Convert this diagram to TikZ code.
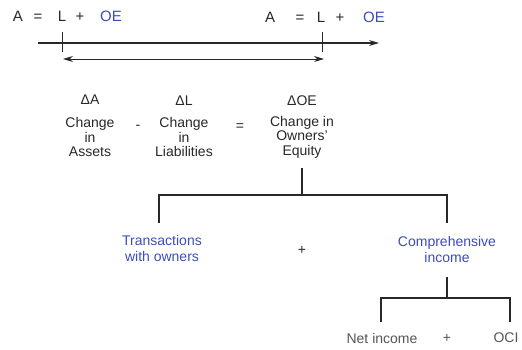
\documentclass[tikz,border=0pt]{standalone}
\usepackage{fontspec}
\setmainfont{Liberation Sans}
\usetikzlibrary{positioning, arrows.meta, calc}
\definecolor{oeblue}{RGB}{60,75,190}
\definecolor{ink}{RGB}{40,40,40}
\definecolor{greytxt}{RGB}{85,85,85}

\begin{document}
\begin{tikzpicture}[x=1pt, y=-1pt,
eq/.style={inner sep=0pt, anchor=base, text=ink, font=\fontsize{15}{17}\selectfont},
oe/.style={eq, text=oeblue},
lbl/.style={inner sep=0pt, align=center, text=ink, font=\fontsize{14}{14.5}\selectfont},
part/.style={lbl, text=oeblue, font=\fontsize{14}{16}\selectfont},
sub/.style={lbl, text=greytxt},
link/.style={draw=ink, line width=1.2pt},
tick/.style={draw=ink, line width=0.8pt},
axis/.style={draw=ink, line width=1.2pt, -{Stealth[length=10pt,width=6pt]}},
span/.style={draw=ink, line width=0.9pt, {Stealth[length=10pt,width=6pt]}-{Stealth[length=10pt,width=6pt]}}]
    \useasboundingbox (0,0) rectangle (522,349);

    % opening equation
    \node[eq] (a1) at (18,21) {A};
    \node[eq] (eq1) at (38,21) {=};
    \node[eq] (l1) at (62,21) {L};
    \node[eq] (p1) at (80,21) {+};
    \node[oe] (oe1) at (111,21) {OE};
    % closing equation
    \node[eq] (a2) at (270,22) {A};
    \node[eq] (eq2) at (300,22) {=};
    \node[eq] (l2) at (321,22) {L};
    \node[eq] (p2) at (340,22) {+};
    \node[oe] (oe2) at (374,22) {OE};

    % time line
    \coordinate (t0) at (38,43);
    \coordinate (t1) at (379,43);
    \draw[axis] (t0) -- (t1);
    \coordinate (k1a) at (62,32);
    \coordinate (k1b) at (62,52);
    \coordinate (k2a) at (322,32);
    \coordinate (k2b) at (322,52);
    \draw[tick] (k1a) -- (k1b);
    \draw[tick] (k2a) -- (k2b);
    \coordinate (s0) at (63,59);
    \coordinate (s1) at (324,59);
    \draw[span] (s0) -- (s1);

    % changes
    \node[lbl] (dA) at (90,100) {ΔA};
    \node[lbl] (dL) at (184,101) {ΔL};
    \node[lbl] (dOE) at (302,101) {ΔOE};
    \node[lbl] (chA) at (90,137) {Change\\in\\Assets};
    \node[lbl] (chL) at (184,137) {Change\\in\\Liabilities};
    \node[lbl] (chOE) at (302,137) {Change in\\Owners'\\Equity};
    \node[lbl] (minus) at (138,127) {-};
    \node[lbl] (equals) at (240,127) {=};

    % owners' equity split
    \coordinate (r1) at (302,168);
    \coordinate (b1) at (302,195);
    \coordinate (twU) at (159,223);
    \coordinate (ciU) at (447,223);
    \draw[link] (r1) -- (b1);
    \draw[link] (twU) |- (b1) -| (ciU);
    \node[part] (tw) at (162,248) {Transactions\\with owners};
    \node[lbl] (plus1) at (302,250) {+};
    \node[part] (ci) at (447,249) {Comprehensive\\income};

    % comprehensive income split
    \coordinate (r2) at (447,277);
    \coordinate (b2) at (447,298);
    \coordinate (niU) at (381,322);
    \coordinate (ocU) at (510,322);
    \draw[link] (r2) -- (b2);
    \draw[link] (niU) |- (b2) -| (ocU);
    \node[sub] (ni) at (382,338) {Net income};
    \node[sub] (plus2) at (447,338) {+};
    \node[sub] (oci) at (506,338) {OCI};
\end{tikzpicture}
\end{document}
